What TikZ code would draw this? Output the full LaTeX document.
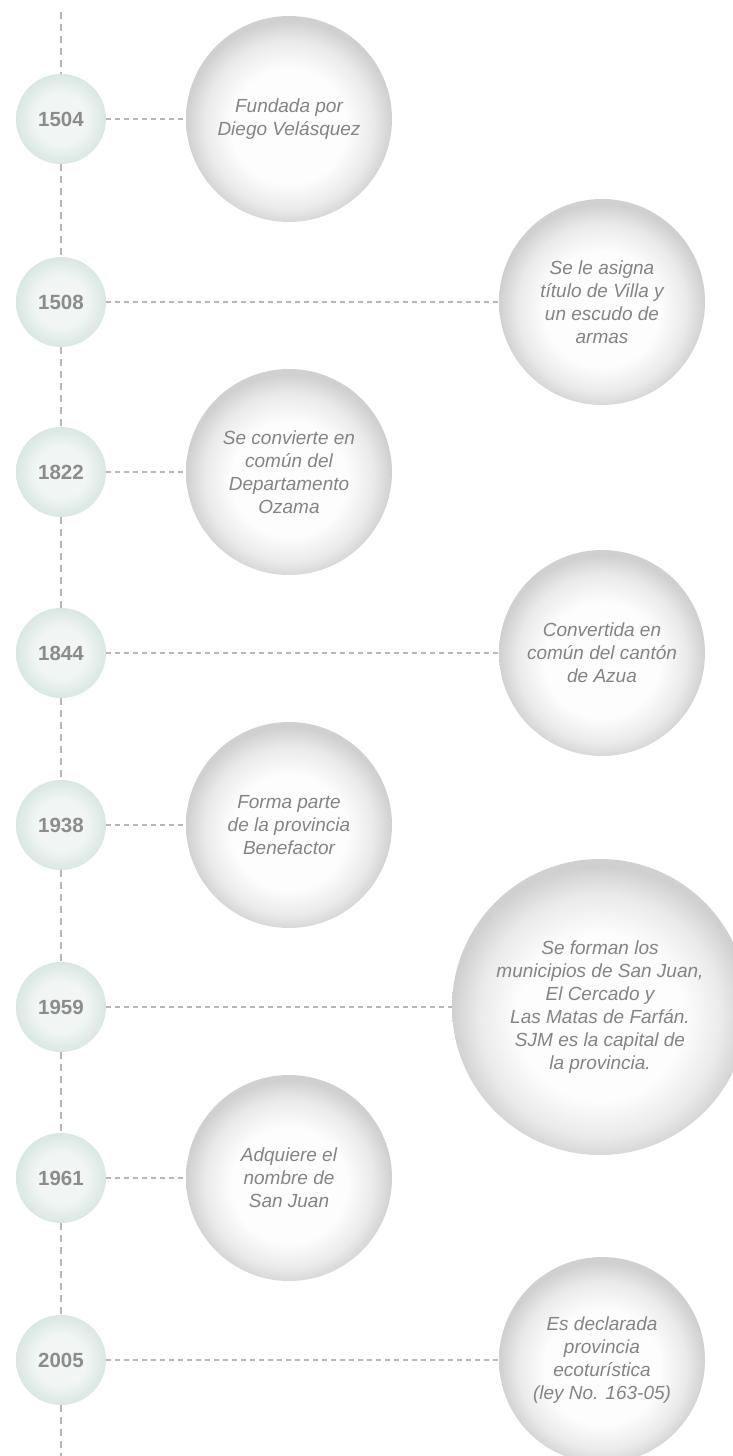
\documentclass[tikz,border=0pt]{standalone}
\usepackage{fontspec}
\setmainfont{Liberation Sans}
\definecolor{bubgray}{HTML}{D0D0D0}
\definecolor{bubmid}{HTML}{EAEAEA}
\definecolor{bubin}{HTML}{FDFDFD}
\definecolor{yrin}{HTML}{F1F6F4}
\definecolor{yrout}{HTML}{D9E7E3}
\definecolor{yeartext}{HTML}{8C8C8C}
\definecolor{evtext}{HTML}{848484}
\definecolor{linegray}{HTML}{B8B8B8}
\pgfdeclareradialshading{bubble}{\pgfpoint{0bp}{-2.5bp}}{color(0bp)=(bubin); color(14bp)=(bubin); color(20.5bp)=(bubmid); color(25bp)=(bubgray); color(50bp)=(bubgray)}
\pgfdeclareradialshading{yearball}{\pgfpoint{0bp}{0bp}}{color(0bp)=(yrin); color(14bp)=(yrin); color(25bp)=(yrout); color(50bp)=(yrout)}
\tikzset{
  yearnode/.style={circle, minimum size=90pt, inner sep=0pt, shading=yearball,
    font=\fontsize{20.5}{20.5}\selectfont\bfseries, text=yeartext},
  eventnode/.style={circle, minimum size=206pt, inner sep=0pt, shading=bubble,
    align=center, font=\fontsize{19}{23}\selectfont\itshape, text=evtext},
  bigevent/.style={eventnode, minimum size=296pt},
  conn/.style={draw=linegray, line width=1.1pt, dash pattern=on 5pt off 4pt},
  spine/.style={draw=linegray, line width=1.1pt, dash pattern=on 7pt off 5pt},
}
\begin{document}
\begin{tikzpicture}[x=1pt,y=-1pt]
\useasboundingbox (0,0) rectangle (732,1456);
\coordinate (top) at (61,12);
\coordinate (bot) at (61,1456);
% years
\node[yearnode] (y1) at (61,119) {1504};
\node[yearnode] (y2) at (61,302) {1508};
\node[yearnode] (y3) at (61,472) {1822};
\node[yearnode] (y4) at (61,653) {1844};
\node[yearnode] (y5) at (61,825) {1938};
\node[yearnode] (y6) at (61,1007) {1959};
\node[yearnode] (y7) at (61,1178) {1961};
\node[yearnode] (y8) at (61,1360) {2005};
% events
\node[eventnode] (e1) at (289,119) {Fundada por\\Diego Velásquez};
\node[eventnode] (e2) at (602,302) {Se le asigna\\título de Villa y\\un escudo de\\armas};
\node[eventnode] (e3) at (289,472) {Se convierte en\\común del\\Departamento\\Ozama};
\node[eventnode] (e4) at (602,653) {Convertida en\\común del cantón\\de Azua};
\node[eventnode] (e5) at (289,825) {Forma parte\\de la provincia\\Benefactor};
\node[bigevent] (e6) at (600,1007) {Se forman los\\municipios de San Juan,\\El Cercado y\\Las Matas de Farfán.\\SJM es la capital de\\la provincia.};
\node[eventnode] (e7) at (289,1178) {Adquiere el\\nombre de\\San Juan};
\node[eventnode] (e8) at (602,1360) {Es declarada\\provincia\\ecoturística\\(ley No. 163-05)};
% spine
\draw[spine] (top) -- (y1);
\draw[spine] (y1) -- (y2);
\draw[spine] (y2) -- (y3);
\draw[spine] (y3) -- (y4);
\draw[spine] (y4) -- (y5);
\draw[spine] (y5) -- (y6);
\draw[spine] (y6) -- (y7);
\draw[spine] (y7) -- (y8);
\draw[spine] (y8) -- (bot);
% connectors
\foreach \i in {1,...,8}{\draw[conn] (y\i) -- (e\i);}
\end{tikzpicture}
\end{document}
